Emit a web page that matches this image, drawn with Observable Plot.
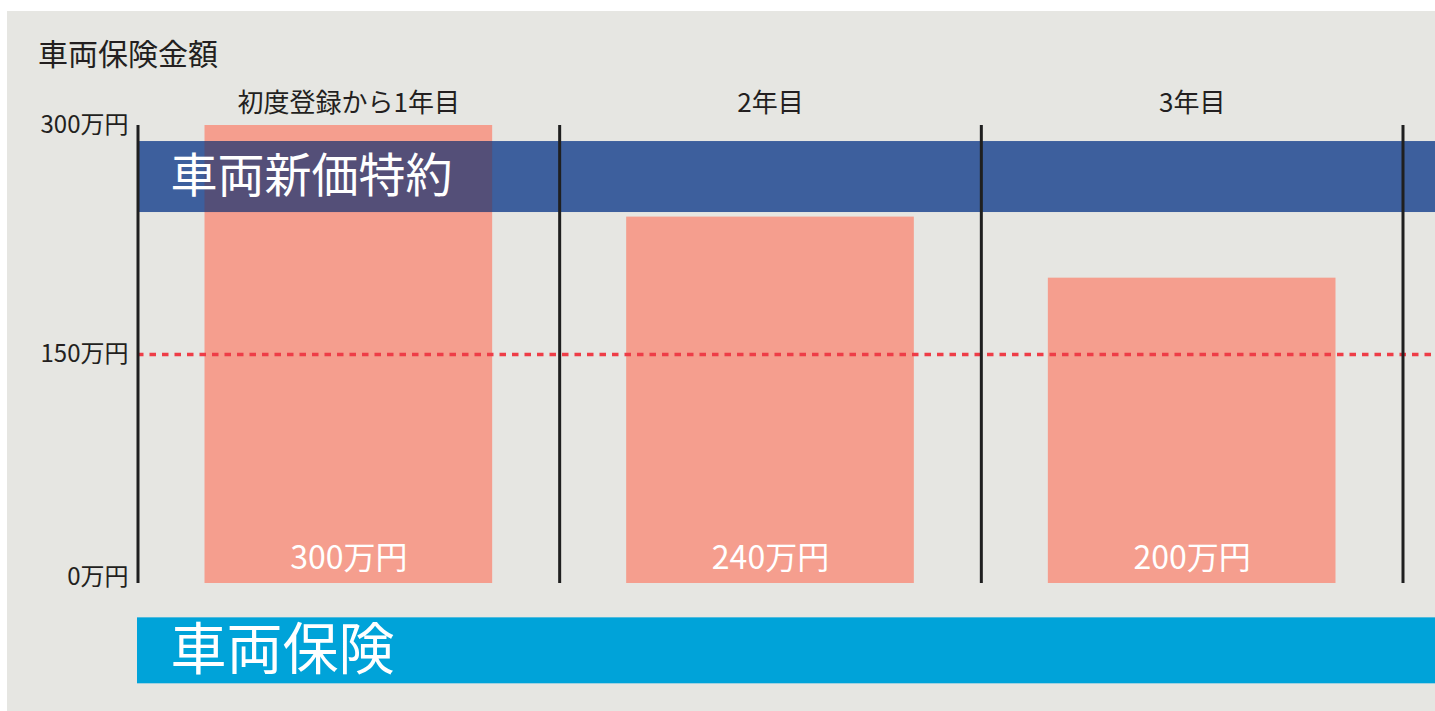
<!DOCTYPE html>
<html>
<head>
<meta charset="utf-8">
<script src="https://cdn.jsdelivr.net/npm/d3@7"></script>
<script src="https://cdn.jsdelivr.net/npm/@observablehq/plot@0.6"></script>
<style>
  html, body { margin: 0; padding: 0; background: #ffffff; }
  #wrap {
    position: absolute; left: 7px; top: 11px; width: 1428px; height: 700px;
    background: #e6e6e2; overflow: hidden;
    font-family: "Noto Sans CJK JP", "Noto Sans", sans-serif;
  }
  #title {
    box-sizing: border-box; height: 70px; padding-top: 26px; padding-left: 31px;
    font-size: 30px; line-height: 30px; color: #231f20;
  }
  #chart svg { display: block; }
</style>
</head>
<body>
<div id="wrap">
  <div id="title">車両保険金額</div>
  <div id="chart"></div>
</div>
<script>
// ---- data ----
const categories = ["初度登録から1年目", "2年目", "3年目"];
const values = [300, 240, 200];            // 万円
const yTicks = [300, 150, 0];
const thresholdLine = [150];
const shinkaBand = [243, 289.5];            // 車両新価特約 band (value units)
const sharyoBand = [-65.7, -22.5];          // 車両保険 band (value units)
const bandLabels = ["車両新価特約", "車両保険"];

const rows = categories.map((c, i) => ({i, c, v: values[i]}));
const bands = [
  {label: bandLabels[0], lo: shinkaBand[0], hi: shinkaBand[1], fill: "#3d5f9d"},
  {label: bandLabels[1], lo: sharyoBand[0], hi: sharyoBand[1], fill: "#00a3d9"}
];

const plot = Plot.plot({
  width: 1428,
  height: 630,
  marginLeft: 130,
  marginRight: 0,
  marginTop: 44,
  marginBottom: 128,
  style: {background: "transparent", overflow: "visible", fontFamily: "\"Noto Sans CJK JP\", sans-serif"},
  x: {domain: [0, categories.length], range: [130.5, 1395.5], axis: null},
  y: {domain: [0, d3.max(yTicks)], axis: null},
  marks: [
    // bars
    Plot.rect(rows, {x1: d => d.i, x2: d => d.i + 1, y1: 0, y2: "v", insetLeft: 67, insetRight: 67, fill: "#f59e8e"}),
    // horizontal bands
    Plot.rect(bands, {y1: "lo", y2: "hi", fill: d => d.fill}),
    // overlap of bars with the 新価特約 band
    Plot.rect(rows, {
      x1: d => d.i, x2: d => d.i + 1,
      y1: d => Math.min(d.v, shinkaBand[0]), y2: d => Math.min(d.v, shinkaBand[1]),
      insetLeft: 67, insetRight: 67, fill: "#544f78"
    }),
    // band labels
    Plot.text([bands[0]], {y: d => (d.lo + d.hi) / 2, text: "label", frameAnchor: "left", textAnchor: "start", lineAnchor: "middle", dx: 33, fill: "white", fontSize: 47}),
    Plot.text([bands[1]], {y: d => (d.lo + d.hi) / 2, text: "label", frameAnchor: "left", textAnchor: "start", lineAnchor: "middle", dx: 33, fill: "white", fontSize: 56}),
    // dashed 150 line
    Plot.ruleY(thresholdLine, {stroke: "#ee3d47", strokeWidth: 3.5, strokeDasharray: "6.5,6"}),
    // category boundaries (incl. axis line)
    Plot.ruleX(d3.range(categories.length + 1), {y1: 0, y2: d3.max(yTicks), stroke: "#1f1f1f", strokeWidth: 3}),
    // value labels
    Plot.text(rows, {x: d => d.i + 0.5, y: 0, text: d => `${d.v}万円`, dy: -25, fill: "white", fontSize: 32}),
    // category labels
    Plot.text(rows, {x: d => d.i + 0.5, frameAnchor: "top", lineAnchor: "middle", textAnchor: "middle", dy: -22, text: "c", fill: "#231f20", fontSize: 26}),
    // y tick labels
    Plot.text(yTicks.filter(t => t !== 0), {y: d => d, text: d => `${d}万円`, frameAnchor: "left", textAnchor: "end", lineAnchor: "middle", dx: -9, fill: "#231f20", fontSize: 24}),
    Plot.text(yTicks.filter(t => t === 0), {y: d => d, text: d => `${d}万円`, frameAnchor: "left", textAnchor: "end", lineAnchor: "middle", dx: -9, dy: -6, fill: "#231f20", fontSize: 24})
  ]
});
document.getElementById("chart").appendChild(plot);
</script>
</body>
</html>
